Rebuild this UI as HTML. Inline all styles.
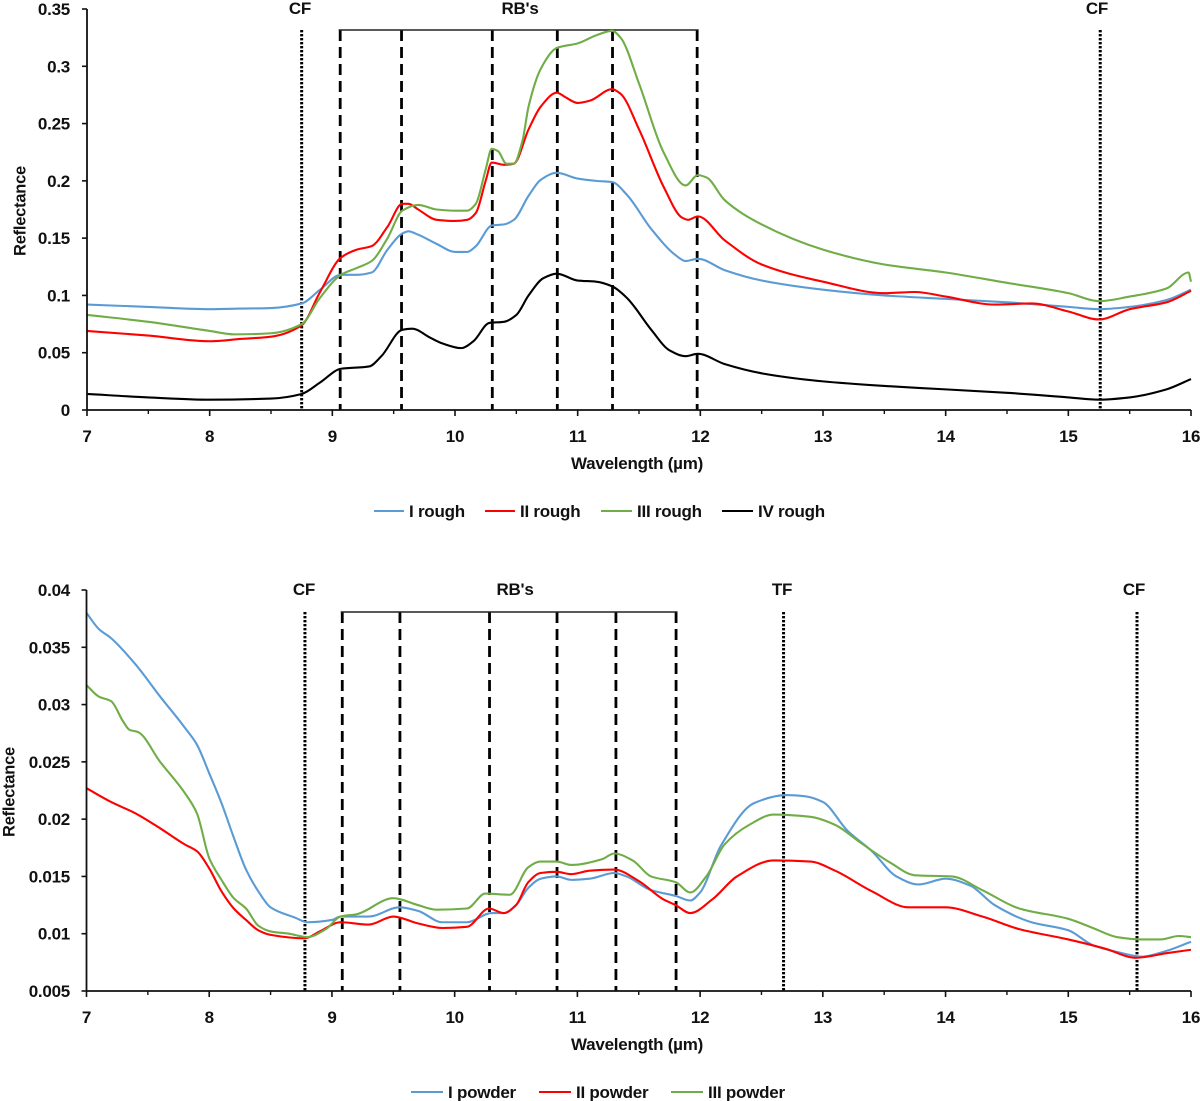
<!DOCTYPE html>
<html>
<head>
<meta charset="utf-8">
<title>Reflectance spectra</title>
<style>
html,body{margin:0;padding:0;background:#fff;}
svg{display:block;}
text{font-family:"Liberation Sans",sans-serif;font-weight:700;fill:#111;}
</style>
</head>
<body>
<svg id="chart" width="1200" height="1101" viewBox="0 0 1200 1101" xmlns="http://www.w3.org/2000/svg"></svg>
<script>
// ---- shared axis data ----
const xTicks = [7, 8, 9, 10, 11, 12, 13, 14, 15, 16];
const xMinorTicks = [7.5, 8.5, 9.5, 10.5, 11.5, 12.5, 13.5, 14.5, 15.5];

// ---- rough panel data ----
const roughYTicks = [0, 0.05, 0.1, 0.15, 0.2, 0.25, 0.3, 0.35];
const roughYLabels = ['0', '0.05', '0.1', '0.15', '0.2', '0.25', '0.3', '0.35'];
const rough1Wl = [7, 7.5, 8, 8.25, 8.5, 8.75, 8.9, 9.07, 9.2, 9.32, 9.45, 9.57, 9.62, 9.7, 9.85, 10, 10.1, 10.17, 10.3, 10.4, 10.48, 10.6, 10.7, 10.83, 11, 11.15, 11.28, 11.4, 11.6, 11.8, 11.88, 11.98, 12.2, 12.5, 13, 13.5, 14, 14.5, 15, 15.25, 15.5, 15.8, 16];
const rough1Val = [0.092, 0.09, 0.088, 0.0885, 0.089, 0.093, 0.105, 0.118, 0.118, 0.12, 0.14, 0.154, 0.156, 0.153, 0.145, 0.138, 0.138, 0.143, 0.161, 0.162, 0.166, 0.187, 0.201, 0.207, 0.202, 0.2, 0.199, 0.188, 0.158, 0.135, 0.13, 0.132, 0.122, 0.113, 0.105, 0.1, 0.097, 0.094, 0.09, 0.088, 0.09, 0.096, 0.105];
const rough2Wl = [7, 7.5, 8, 8.25, 8.5, 8.75, 8.9, 9.07, 9.2, 9.32, 9.45, 9.57, 9.62, 9.7, 9.85, 10, 10.1, 10.17, 10.25, 10.3, 10.4, 10.48, 10.6, 10.7, 10.83, 10.9, 11, 11.1, 11.28, 11.35, 11.5, 11.7, 11.85, 11.9, 11.98, 12.2, 12.5, 13, 13.5, 13.75, 14, 14.4, 14.7, 15, 15.25, 15.5, 15.8, 16];
const rough2Val = [0.069, 0.065, 0.06, 0.062, 0.064, 0.074, 0.103, 0.133, 0.14, 0.143, 0.16, 0.18, 0.18, 0.175, 0.166, 0.165, 0.166, 0.172, 0.2, 0.216, 0.214, 0.215, 0.245, 0.265, 0.277, 0.273, 0.268, 0.27, 0.28, 0.276, 0.245, 0.195, 0.168, 0.166, 0.169, 0.148, 0.127, 0.112, 0.102, 0.103, 0.099, 0.092, 0.093, 0.086, 0.079, 0.088, 0.094, 0.104];
const rough3Wl = [7, 7.5, 8, 8.2, 8.5, 8.75, 8.9, 9.07, 9.2, 9.32, 9.45, 9.57, 9.7, 9.85, 10, 10.1, 10.17, 10.25, 10.3, 10.35, 10.42, 10.48, 10.55, 10.6, 10.7, 10.83, 11, 11.15, 11.28, 11.35, 11.5, 11.7, 11.88, 11.98, 12.05, 12.2, 12.5, 13, 13.5, 14, 14.5, 15, 15.25, 15.5, 15.8, 15.98, 16];
const rough3Val = [0.083, 0.077, 0.069, 0.066, 0.067, 0.075, 0.098, 0.118, 0.124, 0.13, 0.15, 0.174, 0.179, 0.175, 0.174, 0.174, 0.18, 0.21, 0.228, 0.226, 0.215, 0.215, 0.235, 0.265, 0.298, 0.316, 0.32, 0.327, 0.331, 0.325, 0.285, 0.225, 0.196, 0.205, 0.203, 0.183, 0.162, 0.14, 0.127, 0.12, 0.111, 0.102, 0.095, 0.099, 0.106, 0.12, 0.112];
const rough4Wl = [7, 7.5, 8, 8.5, 8.75, 8.9, 9.07, 9.3, 9.4, 9.57, 9.65, 9.8, 9.9, 10.05, 10.15, 10.28, 10.4, 10.5, 10.6, 10.72, 10.83, 11, 11.15, 11.28, 11.4, 11.6, 11.75, 11.88, 11.98, 12.2, 12.5, 13, 13.5, 14, 14.5, 15, 15.25, 15.5, 15.8, 16];
const rough4Val = [0.014, 0.011, 0.009, 0.01, 0.014, 0.024, 0.036, 0.038, 0.047, 0.07, 0.071, 0.063, 0.058, 0.054, 0.06, 0.076, 0.077, 0.083, 0.1, 0.115, 0.119, 0.113, 0.112, 0.108, 0.098, 0.07, 0.052, 0.047, 0.049, 0.04, 0.032, 0.025, 0.021, 0.018, 0.015, 0.011, 0.009, 0.011, 0.018, 0.027];
const roughCF = [8.75, 15.26];
const roughRB = [9.06, 9.56, 10.3, 10.83, 11.28, 11.97];

// ---- powder panel data ----
const powderYTicks = [0.005, 0.01, 0.015, 0.02, 0.025, 0.03, 0.035, 0.04];
const powderYLabels = ['0.005', '0.01', '0.015', '0.02', '0.025', '0.03', '0.035', '0.04'];
const powder1Wl = [7, 7.1, 7.2, 7.4, 7.6, 7.8, 7.9, 8, 8.1, 8.2, 8.3, 8.4, 8.5, 8.7, 8.8, 9, 9.07, 9.3, 9.55, 9.7, 9.9, 10.1, 10.3, 10.4, 10.5, 10.6, 10.7, 10.83, 10.95, 11.1, 11.3, 11.4, 11.6, 11.8, 11.92, 12, 12.17, 12.44, 12.7, 12.85, 13, 13.2, 13.4, 13.6, 13.78, 14, 14.2, 14.4, 14.7, 15, 15.2, 15.4, 15.6, 15.8, 16];
const powder1Val = [0.038, 0.0366, 0.0358, 0.0335, 0.0307, 0.028, 0.0265, 0.024, 0.0214, 0.0184, 0.0156, 0.0137, 0.0123, 0.0114, 0.011, 0.0112, 0.0115, 0.0115, 0.0123, 0.012, 0.011, 0.011, 0.0118, 0.0118, 0.0125, 0.014, 0.0148, 0.015, 0.0147, 0.0148, 0.0153, 0.015, 0.0138, 0.0133, 0.0129, 0.0136, 0.0177, 0.0214, 0.0221, 0.022, 0.0215, 0.019, 0.0172, 0.015, 0.0143, 0.0148, 0.0142, 0.0125, 0.011, 0.0103, 0.009, 0.0084, 0.008, 0.0085, 0.0093];
const powder2Wl = [7, 7.2, 7.4, 7.6, 7.8, 7.9, 8, 8.1, 8.2, 8.3, 8.4, 8.5, 8.78, 8.9, 9.07, 9.3, 9.5, 9.7, 9.9, 10.1, 10.28, 10.4, 10.5, 10.6, 10.7, 10.83, 10.95, 11.1, 11.3, 11.5, 11.7, 11.8, 11.92, 12.1, 12.3, 12.6, 12.9, 13.1, 13.4, 13.7, 14, 14.3, 14.6, 15, 15.3, 15.55, 15.8, 16];
const powder2Val = [0.0227, 0.0215, 0.0205, 0.0192, 0.0178, 0.0172, 0.0157, 0.0137, 0.0122, 0.0112, 0.0103, 0.0099, 0.0096, 0.0102, 0.011, 0.0108, 0.0115, 0.0109, 0.0105, 0.0106, 0.0122, 0.0118, 0.0125, 0.0145, 0.0153, 0.0154, 0.0152, 0.0155, 0.0156, 0.0146, 0.013, 0.0125, 0.0118, 0.013, 0.015, 0.0164, 0.0163, 0.0155, 0.0137, 0.0123, 0.0123, 0.0115, 0.0104, 0.0095, 0.0087, 0.0079, 0.0083, 0.0086];
const powder3Wl = [7, 7.1, 7.2, 7.3, 7.35, 7.42, 7.6, 7.8, 7.9, 8, 8.1, 8.2, 8.3, 8.4, 8.5, 8.65, 8.8, 8.95, 9.07, 9.2, 9.5, 9.7, 9.85, 10.1, 10.25, 10.45, 10.6, 10.7, 10.83, 10.95, 11.2, 11.3, 11.45, 11.6, 11.8, 11.92, 12.05, 12.2, 12.4, 12.6, 12.9, 13.1, 13.3, 13.55, 13.75, 14.05, 14.3, 14.6, 15, 15.2, 15.4, 15.6, 15.75, 15.9, 16];
const powder3Val = [0.0317, 0.0307, 0.0303, 0.0285, 0.0278, 0.0276, 0.025, 0.0223, 0.0205, 0.0166, 0.0147, 0.0131, 0.0122, 0.0107, 0.0102, 0.01, 0.0097, 0.0104, 0.0115, 0.0117, 0.0131, 0.0125, 0.0121, 0.0122, 0.0135, 0.0134, 0.0158, 0.0163, 0.0163, 0.016, 0.0165, 0.017, 0.0164, 0.015, 0.0145, 0.0136, 0.015, 0.0178, 0.0195, 0.0204, 0.0202, 0.0195, 0.018, 0.0162, 0.0151, 0.015, 0.0138, 0.0122, 0.0113, 0.0105, 0.0097, 0.0095, 0.0095, 0.0098, 0.0097];
const powderCF = [8.78, 15.56];
const powderTF = [12.68];
const powderRB = [9.08, 9.55, 10.28, 10.83, 11.31, 11.8];

// ---- helpers ----
const NS = 'http://www.w3.org/2000/svg';
const root = document.getElementById('chart');
const BLUE = '#5b9bd5', RED = '#ff0000', GREEN = '#70ad47', BLACK = '#000000', INK = '#111111';
const FONT = 17;

function node(parent, tag, props) {
  const el = document.createElementNS(NS, tag);
  for (const k in props) el.setAttribute(k, props[k]);
  parent.appendChild(el);
  return el;
}
function label(parent, txt, x, y, size, anchor, rot) {
  const el = node(parent, 'text', {x: x, y: y + 0.5, 'font-size': size, 'text-anchor': anchor, 'dominant-baseline': 'central', 'letter-spacing': '-0.25'});
  if (rot) el.setAttribute('transform', 'rotate(' + rot + ' ' + x + ' ' + y + ')');
  el.textContent = txt;
  return el;
}
function smoothPath(pts) {
  const n = pts.length, s = [], m = [];
  for (let i = 0; i < n - 1; i++) s.push((pts[i + 1][1] - pts[i][1]) / (pts[i + 1][0] - pts[i][0]));
  m[0] = s[0];
  m[n - 1] = s[n - 2];
  for (let i = 1; i < n - 1; i++) {
    if (s[i - 1] * s[i] <= 0) { m[i] = 0; continue; }
    const h0 = pts[i][0] - pts[i - 1][0], h1 = pts[i + 1][0] - pts[i][0];
    m[i] = (h0 + h1) * 3 / ((2 * h1 + h0) / s[i - 1] + (h1 + 2 * h0) / s[i]);
  }
  let d = 'M' + pts[0][0].toFixed(2) + ' ' + pts[0][1].toFixed(2);
  for (let i = 0; i < n - 1; i++) {
    const h = (pts[i + 1][0] - pts[i][0]) / 3;
    d += 'C' + (pts[i][0] + h).toFixed(2) + ' ' + (pts[i][1] + m[i] * h).toFixed(2) + ' ' + (pts[i + 1][0] - h).toFixed(2) + ' ' + (pts[i + 1][1] - m[i + 1] * h).toFixed(2) + ' ' + pts[i + 1][0].toFixed(2) + ' ' + pts[i + 1][1].toFixed(2);
  }
  return d;
}

function drawAxes(g, sx, sy, yTicks, yLabels, xTitleY, yTitleX, yTitleY, tickLabelY) {
  const y0 = sy(yTicks[0]), y1 = sy(yTicks[yTicks.length - 1]), x0 = sx(7), x1 = sx(16);

  const yAxis = node(g, 'line', {x1: x0, x2: x0, y1: y1, y2: y0, stroke: INK, 'stroke-width': 1.8});
  
  

  const xAxis = node(g, 'line', {x1: x0, x2: x1, y1: y0, y2: y0, stroke: INK, 'stroke-width': 1.8});
  
  

  yTicks.forEach(function (t, i) {
    node(g, 'line', {x1: x0 - 5, x2: x0, y1: sy(t), y2: sy(t), stroke: INK, 'stroke-width': 1.6});
    const tl = label(g, yLabels[i], 70, sy(t), FONT, 'end');
    
    
  });
  xTicks.forEach(function (t) {
    node(g, 'line', {x1: sx(t), x2: sx(t), y1: y0, y2: y0 + 6, stroke: INK, 'stroke-width': 1.6});
    const tl = label(g, String(t), sx(t), tickLabelY, FONT, 'middle');
    
    
  });
  xMinorTicks.forEach(function (t) {
    node(g, 'line', {x1: sx(t), x2: sx(t), y1: y0, y2: y0 + 4, stroke: INK, 'stroke-width': 1.4});
  });

  const xt = label(g, 'Wavelength (µm)', 637, xTitleY, FONT, 'middle');
  
  

  const yt = label(g, 'Reflectance', yTitleX, yTitleY, 16.5, 'middle', -90);
  
  
}

function drawGuides(g, sx, yBottom, yTop, cf, rb, tf) {
  cf.concat(tf).forEach(function (w) {
    const l = node(g, 'line', {x1: sx(w), x2: sx(w), y1: yTop, y2: yBottom, stroke: '#000', 'stroke-width': 3, 'stroke-dasharray': '2.4 1.6'});
    
    
  });
  rb.forEach(function (w) {
    const l = node(g, 'line', {x1: sx(w) + 0.5, x2: sx(w) + 0.5, y1: yTop, y2: yBottom, stroke: '#000', 'stroke-width': 2.8, 'stroke-dasharray': '11 6'});
    
    
  });
  const b = node(g, 'line', {x1: sx(rb[0]) - 1, x2: sx(rb[rb.length - 1]) + 2, y1: yTop, y2: yTop, stroke: '#222', 'stroke-width': 1.5});
  
  
}

function drawSeries(g, sx, sy, wl, val, color, name) {
  const pts = wl.map(function (w, i) { return [sx(w), sy(val[i])]; });
  const p = node(g, 'path', {d: smoothPath(pts), fill: 'none', stroke: color, 'stroke-width': 2.1, 'stroke-linejoin': 'round'});
  
  
}

function drawLegend(g, x, y, len, color, txt) {
  const item = node(g, 'g', {});
  
  
  node(item, 'line', {x1: x, x2: x + len, y1: y, y2: y, stroke: color, 'stroke-width': 2.1});
  label(item, txt, x + len + 5, y, FONT, 'start');
}

// ---- rough panel ----
const topX = function (w) { return 87 + (w - 7) * (1191 - 87) / 9; };
const topY = function (v) { return 410 - v * (410 - 9) / 0.35; };
const topPanel = node(root, 'g', {});


drawGuides(topPanel, topX, 410, 30, roughCF, roughRB, []);
drawSeries(topPanel, topX, topY, rough1Wl, rough1Val, BLUE, 'series-i-rough');
drawSeries(topPanel, topX, topY, rough2Wl, rough2Val, RED, 'series-ii-rough');
drawSeries(topPanel, topX, topY, rough3Wl, rough3Val, GREEN, 'series-iii-rough');
drawSeries(topPanel, topX, topY, rough4Wl, rough4Val, BLACK, 'series-iv-rough');
drawAxes(topPanel, topX, topY, roughYTicks, roughYLabels, 463, 20, 211, 436);
label(topPanel, 'CF', 300, 8, FONT, 'middle');
label(topPanel, "RB's", 520, 8, FONT, 'middle');
label(topPanel, 'CF', 1097, 8, FONT, 'middle');
drawLegend(topPanel, 374, 511, 30, BLUE, 'I rough');
drawLegend(topPanel, 485, 511, 30, RED, 'II rough');
drawLegend(topPanel, 601, 511, 31, GREEN, 'III rough');
drawLegend(topPanel, 722, 511, 31, BLACK, 'IV rough');

// ---- powder panel ----
const botX = function (w) { return 86.5 + (w - 7) * (1191 - 86.5) / 9; };
const botY = function (v) { return 991 - (v - 0.005) * (991 - 590) / 0.035; };
const botPanel = node(root, 'g', {});


drawGuides(botPanel, botX, 991, 612, powderCF, powderRB, powderTF);
drawSeries(botPanel, botX, botY, powder1Wl, powder1Val, BLUE, 'series-i-powder');
drawSeries(botPanel, botX, botY, powder2Wl, powder2Val, RED, 'series-ii-powder');
drawSeries(botPanel, botX, botY, powder3Wl, powder3Val, GREEN, 'series-iii-powder');
drawAxes(botPanel, botX, botY, powderYTicks, powderYLabels, 1044, 9, 792, 1017);
label(botPanel, 'CF', 304, 589, FONT, 'middle');
label(botPanel, "RB's", 515, 589, FONT, 'middle');
label(botPanel, 'TF', 782, 589, FONT, 'middle');
label(botPanel, 'CF', 1134, 589, FONT, 'middle');
drawLegend(botPanel, 411, 1092, 32, BLUE, 'I powder');
drawLegend(botPanel, 539, 1092, 32, RED, 'II powder');
drawLegend(botPanel, 671, 1092, 32, GREEN, 'III powder');
</script>
</body>
</html>
